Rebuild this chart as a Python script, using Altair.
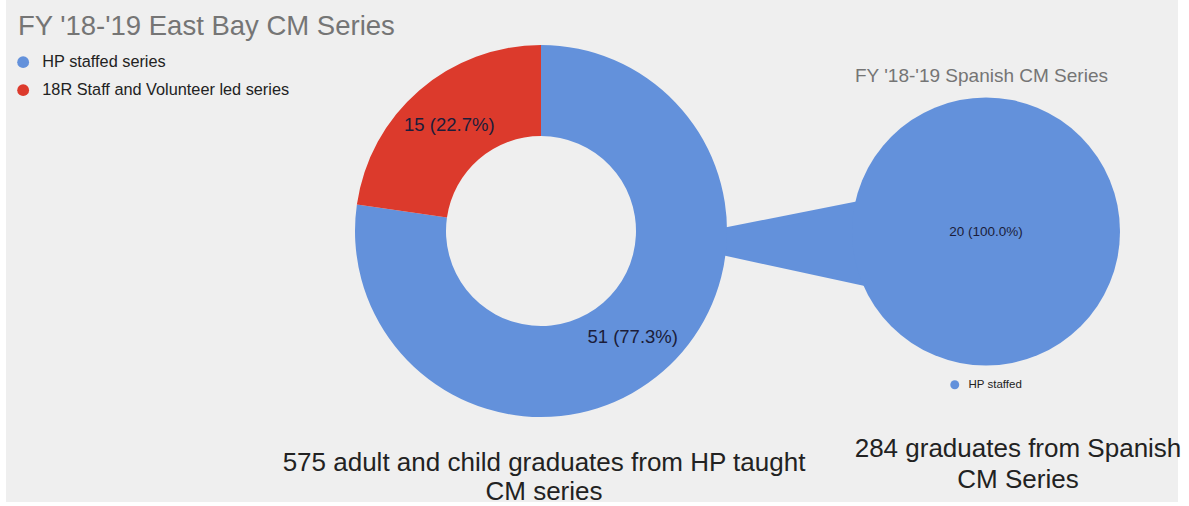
import altair as alt
import pandas as pd

# ---------------- data ----------------
donut_series = ["HP staffed series", "18R Staff and Volunteer led series"]
donut_values = [51, 15]
pie_series = ["HP staffed"]
pie_values = [20]

main_title = "FY '18-'19 East Bay CM Series"
pie_title = "FY '18-'19 Spanish CM Series"
caption_left = ["575 adult and child graduates from HP taught", "CM series"]
caption_right = ["284 graduates from Spanish", "CM Series"]

BLUE = "#6391db"
RED = "#dc3a2c"
BG = "#efefef"
FONT = "Liberation Sans"

# ---------------- layout ----------------
W, H = 1189, 506
PAD_L, PAD_R, PAD_B = 6, 11, 4
PW, PH = W - PAD_L - PAD_R, H - PAD_B

DONUT_CX, DONUT_CY, R_OUT, R_IN = 541, 231, 186, 95
PIE_CX, PIE_CY, PIE_R = 986, 231.5, 134


def px(x):
    return x - PAD_L


def make_labels(values):
    total = sum(values)
    return [f"{v} ({100 * v / total:.1f}%)" for v in values]


donut_df = pd.DataFrame({
    "series": donut_series,
    "value": donut_values,
    "order": list(range(len(donut_values))),
    "label": make_labels(donut_values),
})
pie_df = pd.DataFrame({
    "series": pie_series,
    "value": pie_values,
    "order": list(range(len(pie_values))),
    "label": make_labels(pie_values),
})

# connector band between the donut's blue slice and the breakout pie (layout geometry)
conn_x0 = DONUT_CX + R_OUT - 12
conn_x1 = PIE_CX - PIE_R + 22
conn_df = pd.DataFrame({
    "x": [conn_x0, conn_x1],
    "top": [229.5, 198.0],
    "bottom": [253.5, 288.0],
})

xscale = alt.Scale(domain=[PAD_L, PAD_L + PW], nice=False, zero=False)
yscale = alt.Scale(domain=[0, PH], reverse=True, nice=False, zero=False)

connector = alt.Chart(conn_df).mark_area(color=BLUE, opacity=1).encode(
    x=alt.X("x:Q", scale=xscale, axis=None),
    y=alt.Y("top:Q", scale=yscale, axis=None),
    y2="bottom:Q",
)

donut = alt.Chart(donut_df).mark_arc(outerRadius=R_OUT, innerRadius=R_IN, strokeWidth=0).encode(
    theta=alt.Theta("value:Q", stack=True),
    order=alt.Order("order:Q"),
    color=alt.Color(
        "series:N",
        scale=alt.Scale(domain=donut_series, range=[BLUE, RED]),
        legend=alt.Legend(
            orient="none", legendX=9, legendY=54, title=None,
            symbolType="circle", symbolSize=140, symbolStrokeWidth=0,
            labelFont=FONT, labelFontSize=16.3, labelColor="#222222",
            labelOffset=11, rowPadding=11, padding=0, labelLimit=0,
        ),
    ),
    x=alt.value(px(DONUT_CX)),
    y=alt.value(DONUT_CY),
)

donut_text = alt.Chart(donut_df).mark_text(
    radius=140, font=FONT, fontSize=18.5, color="#1b1d3a"
).encode(
    theta=alt.Theta("value:Q", stack=True),
    order=alt.Order("order:Q"),
    text="label:N",
    x=alt.value(px(DONUT_CX)),
    y=alt.value(DONUT_CY),
)

pie = alt.Chart(pie_df).mark_arc(outerRadius=PIE_R, strokeWidth=0).encode(
    theta=alt.Theta("value:Q", stack=True),
    order=alt.Order("order:Q"),
    color=alt.Color(
        "series:N",
        scale=alt.Scale(domain=pie_series, range=[BLUE]),
        legend=alt.Legend(
            orient="none", legendX=943, legendY=379, title=None,
            symbolType="circle", symbolSize=80, symbolStrokeWidth=0,
            labelFont=FONT, labelFontSize=11.5, labelColor="#222222",
            labelOffset=8, padding=0, labelLimit=0,
        ),
    ),
    x=alt.value(px(PIE_CX)),
    y=alt.value(PIE_CY),
)

pie_text = alt.Chart(pie_df).mark_text(
    font=FONT, fontSize=13.5, color="#1b1d3a", align="center", baseline="middle"
).encode(
    text="label:N",
    x=alt.value(px(PIE_CX)),
    y=alt.value(PIE_CY),
)

title_df = pd.DataFrame({"t": [main_title]})
title_text = alt.Chart(title_df).mark_text(
    font=FONT, fontSize=27.5, color="#757575", align="left", baseline="alphabetic"
).encode(text="t:N", x=alt.value(px(18)), y=alt.value(35))

pie_title_df = pd.DataFrame({"t": [pie_title]})
pie_title_text = alt.Chart(pie_title_df).mark_text(
    font=FONT, fontSize=19, color="#757575", align="left", baseline="alphabetic"
).encode(text="t:N", x=alt.value(px(855)), y=alt.value(82))

cap_l = alt.Chart(pd.DataFrame({"t": [caption_left]})).mark_text(
    font=FONT, fontSize=26, color="#222222", align="center", baseline="alphabetic", lineHeight=29
).encode(text="t", x=alt.value(px(544)), y=alt.value(471))

cap_r = alt.Chart(pd.DataFrame({"t": [caption_right]})).mark_text(
    font=FONT, fontSize=26, color="#222222", align="center", baseline="alphabetic", lineHeight=31
).encode(text="t", x=alt.value(px(1018)), y=alt.value(457))

chart = alt.layer(
    connector, donut, pie, donut_text, pie_text, title_text, pie_title_text, cap_l, cap_r
).resolve_scale(
    theta="independent", color="independent"
).properties(
    width=PW, height=PH,
    autosize=alt.AutoSizeParams(type="none"),
    padding={"left": PAD_L, "right": PAD_R, "top": 0, "bottom": PAD_B},
    background="white",
).configure_view(fill=BG, stroke=None)

chart.save("out.html", embed_options={"renderer": "svg", "actions": False})
